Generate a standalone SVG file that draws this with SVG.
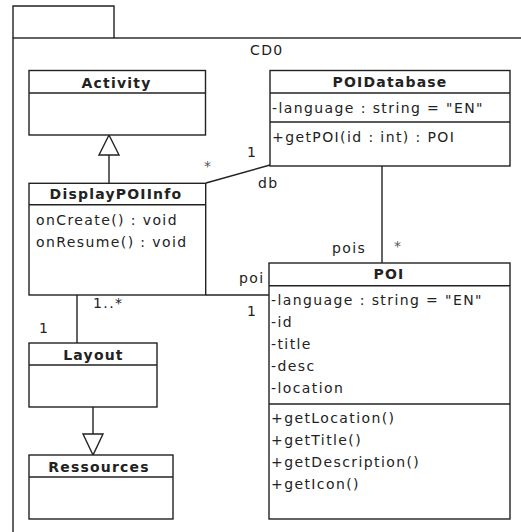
<svg xmlns="http://www.w3.org/2000/svg" width="521" height="532" viewBox="0 0 521 532">
  <style>
    .box { fill: #ffffff; stroke: #222222; stroke-width: 1.4; }
    .ln { fill: none; stroke: #222222; stroke-width: 1.4; }
    .tri { fill: #ffffff; stroke: #222222; stroke-width: 1.4; stroke-linejoin: miter; }
    text { font-family: "DejaVu Sans", "Liberation Sans", sans-serif; font-size: 14px; fill: #222222; letter-spacing: 1.4px; }
    .title { font-weight: bold; text-anchor: middle; letter-spacing: 1.2px; }
    .mult { fill: #555555; }
  </style>
  <rect width="521" height="532" fill="#ffffff"/>

  <!-- package frame CD0 -->
  <g id="package-CD0">
    <path class="ln" d="M13,38 V6 H114 V38"/>
    <rect class="ln" x="13" y="38" width="540" height="520"/>
    <text x="250" y="55">CD0</text>
  </g>

  <!-- associations and generalizations -->
  <g id="connectors">
    <!-- DisplayPOIInfo -> Activity -->
    <line class="ln" x1="109" y1="183" x2="109" y2="155"/>
    <polygon class="tri" points="109,135 99,155 119,155"/>
    <!-- Layout -> Ressources -->
    <line class="ln" x1="93" y1="407" x2="93" y2="434"/>
    <polygon class="tri" points="93,455 83,434 103,434"/>
    <!-- DisplayPOIInfo - POIDatabase -->
    <line class="ln" x1="206" y1="183" x2="270" y2="165"/>
    <text class="mult" x="204" y="171">*</text>
    <text x="247" y="157">1</text>
    <text x="258" y="188">db</text>
    <!-- POIDatabase - POI -->
    <line class="ln" x1="382" y1="166" x2="382" y2="263"/>
    <text x="332" y="252.5">pois</text>
    <text class="mult" x="394" y="251">*</text>
    <!-- DisplayPOIInfo - POI -->
    <line class="ln" x1="206" y1="295" x2="269" y2="295"/>
    <text x="239" y="283">poi</text>
    <text x="247" y="316">1</text>
    <!-- DisplayPOIInfo - Layout -->
    <line class="ln" x1="77" y1="295" x2="77" y2="343"/>
    <text x="93" y="307.5">1..*</text>
    <text x="39" y="332.5">1</text>
  </g>

  <g id="Activity">
    <rect class="box" x="29" y="70.5" width="176.5" height="64.5"/>
    <line class="ln" x1="29" y1="93" x2="205.5" y2="93"/>
    <text class="title" x="116.5" y="87.5">Activity</text>
  </g>

  <g id="POIDatabase">
    <rect class="box" x="270" y="70.5" width="240" height="95.5"/>
    <line class="ln" x1="270" y1="93" x2="510" y2="93"/>
    <line class="ln" x1="270" y1="122" x2="510" y2="122"/>
    <text class="title" x="390" y="87">POIDatabase</text>
    <text x="272" y="113">-language : string = "EN"</text>
    <text x="272" y="141.5">+getPOI(id : int) : POI</text>
  </g>

  <g id="DisplayPOIInfo">
    <rect class="box" x="29" y="183.3" width="176.7" height="111.7"/>
    <line class="ln" x1="29" y1="204.7" x2="205.7" y2="204.7"/>
    <text class="title" x="116" y="199">DisplayPOIInfo</text>
    <text x="36" y="225">onCreate() : void</text>
    <text x="36" y="247">onResume() : void</text>
  </g>

  <g id="POI">
    <rect class="box" x="269" y="263" width="241" height="256"/>
    <line class="ln" x1="269" y1="285.7" x2="510" y2="285.7"/>
    <line class="ln" x1="269" y1="404" x2="510" y2="404"/>
    <text class="title" x="389" y="279.3">POI</text>
    <text x="271" y="305">-language : string = "EN"</text>
    <text x="271" y="327">-id</text>
    <text x="271" y="349">-title</text>
    <text x="271" y="371">-desc</text>
    <text x="271" y="393">-location</text>
    <text x="271" y="423">+getLocation()</text>
    <text x="271" y="445">+getTitle()</text>
    <text x="271" y="467">+getDescription()</text>
    <text x="271" y="489">+getIcon()</text>
  </g>

  <g id="Layout">
    <rect class="box" x="29" y="343" width="128" height="64"/>
    <line class="ln" x1="29" y1="365" x2="157" y2="365"/>
    <text class="title" x="93.5" y="360">Layout</text>
  </g>

  <g id="Ressources">
    <rect class="box" x="29" y="455" width="144" height="64"/>
    <line class="ln" x1="29" y1="477" x2="173" y2="477"/>
    <text class="title" x="99" y="471.7">Ressources</text>
  </g>
</svg>
